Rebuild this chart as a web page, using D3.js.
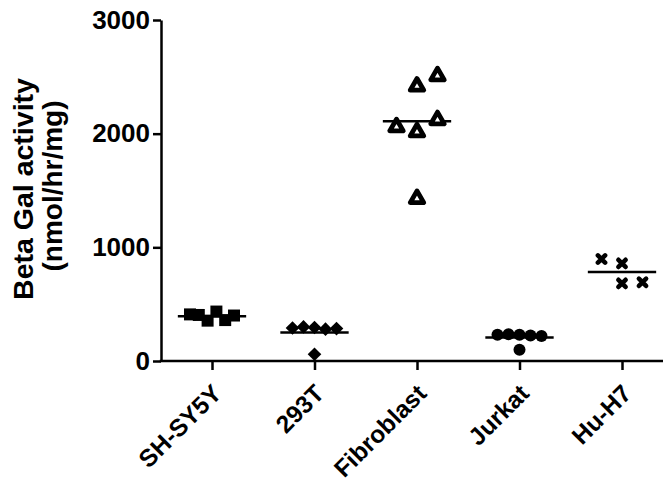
<!DOCTYPE html>
<html>
<head>
<meta charset="utf-8">
<script src="https://cdn.jsdelivr.net/npm/d3@7"></script>
<style>
  body { margin: 0; background: #fff; }
  text { font-family: "Liberation Sans", Arial, sans-serif; font-weight: bold; }
</style>
</head>
<body>
<div id="chart"></div>
<script>
// Data ------------------------------------------------------------------------------------------------------------
const cellLines = ["SH-SY5Y", "293T", "Fibroblast", "Jurkat", "Hu-H7"];
const shsy5yValues = [355, 435, 405, 360, 410, 400];
const t293Values = [60, 295, 280, 300, 285, 290];
const fibroblastValues = [2032, 2138, 2076, 2434, 2525, 1445];
const jurkatValues = [100, 230, 225, 235, 220, 230];
const huh7Values = [683, 692, 859, 897];
const yTicks = [0, 1000, 2000, 3000];

const groups = [
  { name: "SH-SY5Y", values: shsy5yValues, symbol: "square" },
  { name: "293T", values: t293Values, symbol: "diamond" },
  { name: "Fibroblast", values: fibroblastValues, symbol: "triangle" },
  { name: "Jurkat", values: jurkatValues, symbol: "circle" },
  { name: "Hu-H7", values: huh7Values, symbol: "cross" }
];

// Canvas ----------------------------------------------------------------------------------------------------------
const canvasWidth = 663;
const canvasHeight = 484;

const svg = d3.select("#chart")
  .append("svg")
  .attr("width", canvasWidth)
  .attr("height", canvasHeight);

const xScale = d3.scalePoint()
  .domain(cellLines)
  .range([212, 622]);
const yScale = d3.scaleLinear()
  .domain([0, 3000])
  .range([361, 20]);

const axisX = 161;
const axisWidth = 2.5;

// Spread overlapping points sideways, Prism style ----------------------------------------------------------------
const collide = 12.5;
const maxStep = 20.5;
const maxSpread = 44;

groups.forEach(function(g) {
  const placed = [];
  g.values.forEach(function(v) {
    const y = yScale(v);
    const free = s => placed.every(p => p.slot != s || Math.abs(p.y - y) >= collide);
    let slot = 0;
    if (!free(0)) {
      for (let k = 1; k < 10; k++) {
        const plus = free(k), minus = free(-k);
        if (plus && minus) {
          const nPlus = placed.filter(p => p.slot > 0).length;
          const nMinus = placed.filter(p => p.slot < 0).length;
          slot = nMinus < nPlus ? -k : k;
          break;
        }
        if (plus) { slot = k; break; }
        if (minus) { slot = -k; break; }
      }
    }
    placed.push({ value: v, y: y, slot: slot });
  });
  const lo = d3.min(placed, p => p.slot), hi = d3.max(placed, p => p.slot);
  const step = hi > lo ? Math.min(maxStep, maxSpread / (hi - lo)) : 0;
  placed.forEach(p => p.x = xScale(g.name) + (p.slot - (lo + hi) / 2) * step);
  g.points = placed;
  g.mean = d3.mean(g.values);
});

// Axes ------------------------------------------------------------------------------------------------------------
const yAxis = svg.append("g")
  .attr("transform", "translate(" + axisX + ",0)")
  .call(d3.axisLeft(yScale).tickValues(yTicks).tickFormat(d3.format("d")).tickSize(8).tickSizeOuter(0).tickPadding(3));
yAxis.selectAll("path, line")
  .style("stroke", "#000")
  .style("stroke-width", axisWidth);
yAxis.selectAll("text")
  .style("font-size", "26px")
  .attr("fill", "#000");

const xAxis = svg.append("g")
  .attr("transform", "translate(0," + yScale(0) + ")")
  .call(d3.axisBottom(xScale).tickSize(9).tickFormat(""));
xAxis.select(".domain").remove();
xAxis.selectAll("line")
  .style("stroke", "#000")
  .style("stroke-width", axisWidth);
xAxis.append("line")
  .attr("x1", axisX - axisWidth / 2)
  .attr("x2", canvasWidth)
  .attr("stroke", "#000")
  .attr("stroke-width", axisWidth);

svg.append("g")
  .selectAll("text")
  .data(cellLines)
  .join("text")
  .attr("transform", d => "translate(" + (xScale(d) + 11) + "," + 395 + ") rotate(-45)")
  .attr("text-anchor", "end")
  .style("font-size", "24.5px")
  .text(d => d);

// Y axis title
const yTitle = svg.append("g");
yTitle.append("text")
  .attr("transform", "translate(33,189) rotate(-90)")
  .attr("text-anchor", "middle")
  .style("font-size", "28.5px")
  .text("Beta Gal activity");
yTitle.append("text")
  .attr("transform", "translate(62,186) rotate(-90)")
  .attr("text-anchor", "middle")
  .style("font-size", "28px")
  .text("(nmol/hr/mg)");

// Mean lines ------------------------------------------------------------------------------------------------------
const lineHalf = xScale.step() / 3;
svg.append("g")
  .selectAll("line")
  .data(groups)
  .join("line")
  .attr("x1", d => xScale(d.name) - lineHalf)
  .attr("x2", d => xScale(d.name) + lineHalf)
  .attr("y1", d => yScale(d.mean))
  .attr("y2", d => yScale(d.mean))
  .attr("stroke", "#000")
  .attr("stroke-width", 2.5);

// Markers ---------------------------------------------------------------------------------------------------------
const triSide = 13.5;
const triH = triSide * Math.sqrt(3) / 2;
const markerPath = {
  square: "M-6,-6H6V6H-6Z",
  diamond: "M0,-6.8L6.8,0L0,6.8L-6.8,0Z",
  circle: "M-6,0A6,6 0 1,0 6,0A6,6 0 1,0 -6,0Z",
  triangle: "M0," + (-triH / 2) + "L" + (triSide / 2) + "," + (triH / 2) + "L" + (-triSide / 2) + "," + (triH / 2) + "Z",
  cross: "M-3.6,-3.6L3.6,3.6M3.6,-3.6L-3.6,3.6"
};

groups.forEach(function(g) {
  const marks = svg.append("g")
    .selectAll("path")
    .data(g.points)
    .join("path")
    .attr("transform", d => "translate(" + d.x + "," + d.y + ")")
    .attr("d", markerPath[g.symbol]);
  if (g.symbol == "triangle") {
    marks.attr("fill", "#fff")
      .attr("stroke", "#000")
      .attr("stroke-width", 4.8)
      .attr("stroke-linejoin", "round");
  } else if (g.symbol == "cross") {
    marks.attr("fill", "none")
      .attr("stroke", "#000")
      .attr("stroke-width", 4.6)
      .attr("stroke-linecap", "round");
  } else {
    marks.attr("fill", "#000");
  }
});
</script>
</body>
</html>
